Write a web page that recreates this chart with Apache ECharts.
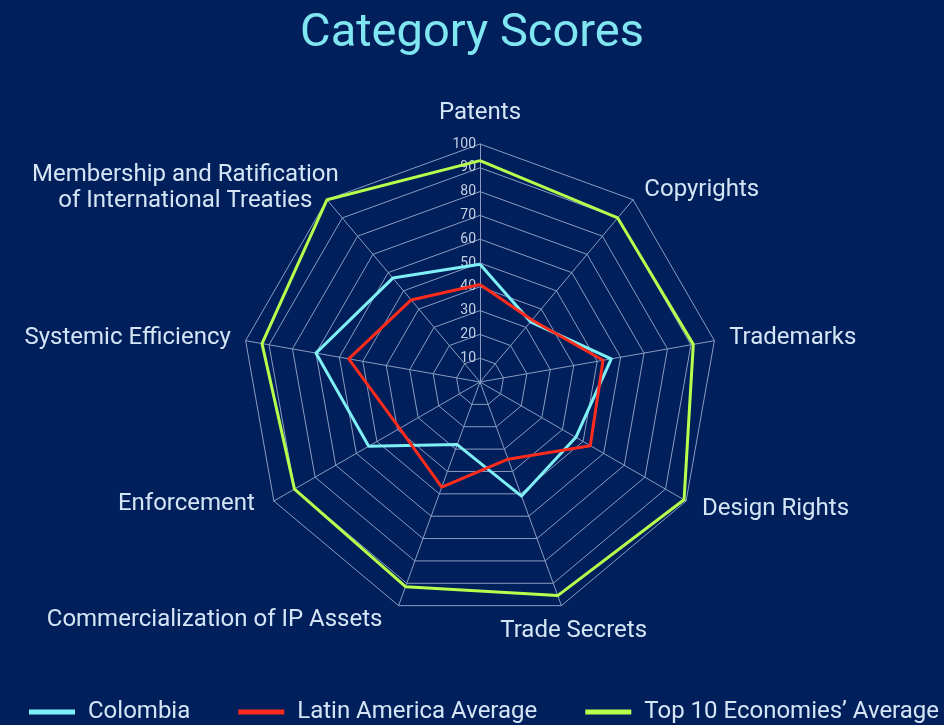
<!DOCTYPE html>
<html>
<head>
<meta charset="utf-8">
<script src="https://cdn.jsdelivr.net/npm/echarts@6/dist/echarts.min.js"></script>
<style>
  html, body { margin: 0; padding: 0; background: #011f5b; }
  #chart { width: 944px; height: 725px; }
</style>
</head>
<body>
<div id="chart"></div>
<script>
// Indicators in ECharts order (counter-clockwise from top)
var categories = [
  'Patents',
  'Membership and Ratification\nof International Treaties',
  'Systemic Efficiency',
  'Enforcement',
  'Commercialization of IP Assets',
  'Trade Secrets',
  'Design Rights',
  'Trademarks',
  'Copyrights'
];
var seriesNames = ['Colombia', 'Latin America Average', 'Top 10 Economies\u2019 Average'];
var colombia  = [49.5, 57, 70, 54, 28, 51, 46.5, 56, 33];
var latam     = [41, 45, 56, 39, 47, 34.5, 53.5, 52.5, 34];
var top10     = [93, 100, 93, 90, 91.5, 95.5, 99, 91, 90];
var axisMax = 100;

var labelColor = '#d4e6f6';
var gridColor = '#8a9cc2';
var font = 'Roboto';

// per-axis name placement tweaks (styling only)
var nameTweaks = [
  { gap: 19 },
  { gap: 15 },
  { gap: 15 },
  { gap: 15, style: { align: 'right', verticalAlign: 'middle', padding: [0, 6, 10, 0] } },
  { gap: 15, style: { align: 'right', verticalAlign: 'middle', padding: [0, 11, 0, 0] } },
  { gap: 27, style: { align: 'center', verticalAlign: 'middle', padding: [0, 0, 0, 6] } },
  { gap: 15, style: { padding: [0, 0, 0, 3] } },
  { gap: 15 },
  { gap: 13, style: { padding: [0, 0, 0, 3] } }
];

var indicators = categories.map(function (c, i) {
  var ind = { name: c, max: axisMax, min: 0, nameGap: nameTweaks[i].gap };
  if (nameTweaks[i].style) ind.nameTextStyle = nameTweaks[i].style;
  if (i === 0) {
    ind.axisLabel = { show: true, showMinLabel: false, color: '#c3cfe4', fontSize: 14, fontFamily: font, margin: 4 };
  }
  return ind;
});

var chart = echarts.init(document.getElementById('chart'));
chart.setOption({
  backgroundColor: '#011f5b',
  color: ['#7ff0f6', '#ff2b1c', '#b6ff4c'],
  title: {
    text: 'Category Scores',
    left: 'center',
    top: 6,
    textStyle: { color: '#80e6f1', fontSize: 47, fontWeight: 'normal', fontFamily: font }
  },
  legend: {
    top: 700,
    left: 29,
    width: 915,
    padding: 0,
    icon: 'rect',
    itemWidth: 46,
    itemHeight: 5,
    itemGap: 48,
    textStyle: { color: labelColor, fontSize: 24, fontFamily: font, padding: [0, 0, 0, 8] },
    data: seriesNames
  },
  radar: {
    center: [480, 382],
    radius: 238,
    startAngle: 90,
    splitNumber: 10,
    shape: 'polygon',
    indicator: indicators,
    axisNameGap: 15,
    axisName: {
      color: labelColor,
      fontSize: 24,
      fontFamily: font,
      formatter: function (name) {
        if (name.indexOf('\n') >= 0) {
          return name.split('\n').map(function (s) { return '{c|' + s + '}'; }).join('\n');
        }
        return name;
      },
      rich: {
        c: { width: 264, align: 'center', color: labelColor, fontSize: 24, fontFamily: font, lineHeight: 26 }
      }
    },
    axisLine: { lineStyle: { color: gridColor, width: 1 } },
    splitLine: { lineStyle: { color: gridColor, width: 1 } },
    splitArea: { show: false },
    axisTick: { show: false },
    axisLabel: { show: false }
  },
  series: [{
    type: 'radar',
    symbol: 'none',
    lineStyle: { width: 3 },
    data: [
      { name: seriesNames[0], value: colombia, lineStyle: { color: '#7ff0f6', width: 3 }, itemStyle: { color: '#7ff0f6' } },
      { name: seriesNames[1], value: latam, lineStyle: { color: '#ff2b1c', width: 3 }, itemStyle: { color: '#ff2b1c' } },
      { name: seriesNames[2], value: top10, lineStyle: { color: '#b6ff4c', width: 3 }, itemStyle: { color: '#b6ff4c' } }
    ]
  }]
});
</script>
</body>
</html>
